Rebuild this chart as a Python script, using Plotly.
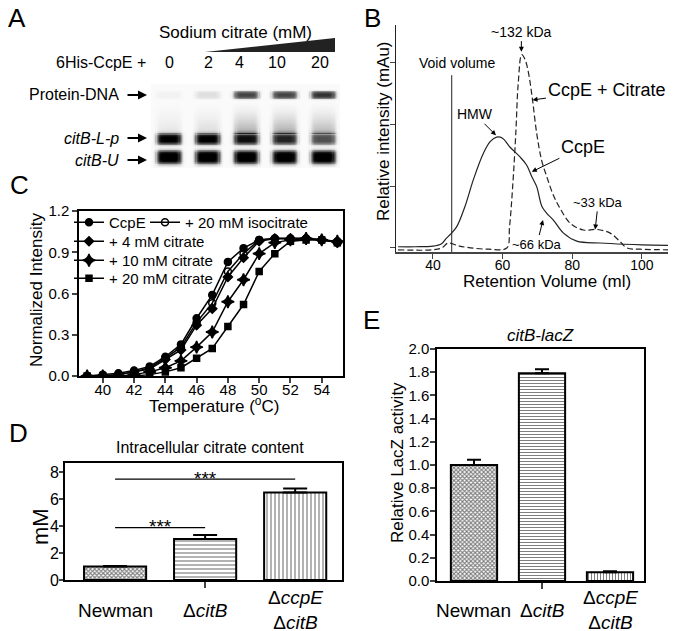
import numpy as np
import plotly.graph_objects as go

W, H = 676, 631
OFF = 8  # page body margin in the screenshot
FONT = "Liberation Sans, Arial, sans-serif"

def px(x):
    return (x - OFF) / W

def py(y):
    return 1 - (y - OFF) / H

# ---------------- Panel A: EMSA gel ----------------
lane_labels = ["0", "2", "4", "10", "20"]
band_names = ["Protein-DNA", "citB-L-p", "citB-U"]
band_positions = [11, 55, 73]          # migration (a.u. from gel top)
band_halfwidths = [4, 6, 7.5]
protein_dna_int = [0.07, 0.18, 0.75, 0.75, 0.8]
citBLp_int = [0.97, 0.97, 0.92, 0.85, 0.72]
citBU_int = [1.0, 1.0, 1.0, 1.0, 1.0]
smear_int = [0.15, 0.2, 0.42, 0.42, 0.38]

# ---------------- Panel B: gel filtration ----------------
ccpE_ml = [30, 35, 40, 42.5, 43.9, 45, 46.8, 49.2, 51.6, 54.5, 56.5, 58.3, 60, 62.1, 65, 66.9,
           68.4, 69.8, 71.3, 72.7, 74.6, 77.5, 81.3, 88, 95, 100, 110]
ccpE_int = [0.02, 0.02, 0.03, 0.07, 0.16, 0.22, 0.34, 0.67, 1.1, 1.53, 1.72, 1.79, 1.77, 1.63, 1.47, 1.34,
            1.15, 0.99, 0.67, 0.56, 0.45, 0.24, 0.11, 0.08, 0.06, 0.05, 0.04]
cit_ml = [30, 40, 42.5, 44.4, 47, 49.7, 56, 61.2, 62.0, 62.9, 63.8, 64.5, 65.5, 66.4, 67.4, 68.6,
          69.8, 71.2, 72.7, 74.6, 76.5, 79.4, 83.2, 87, 90.9, 93.8, 95.7, 99.5, 110]
cit_int = [-0.03, -0.03, 0.0, 0.08, 0.04, 0.01, -0.02, 0.0, 0.34, 0.99, 1.85, 2.66, 3.12, 3.05, 2.84, 2.39,
           1.85, 1.42, 1.15, 0.85, 0.64, 0.4, 0.29, 0.3, 0.24, 0.1, 0.0, -0.02, -0.03]
void_volume = 45.4

# ---------------- Panel C: thermal shift ----------------
temperature = list(range(39, 56))
ccpE_c = [0, 0.01, 0.02, 0.04, 0.07, 0.14, 0.23, 0.42, 0.59, 0.83, 0.93, 0.99, 1.0, 1.0, 1.0, 0.99, 0.97]
iso20 = [0, 0.0, 0.01, 0.03, 0.06, 0.13, 0.21, 0.39, 0.53, 0.76, 0.89, 0.99, 1.0, 1.0, 1.0, 0.99, 0.98]
cit4 = [0, 0.0, 0.01, 0.03, 0.05, 0.12, 0.19, 0.37, 0.49, 0.72, 0.86, 0.98, 1.0, 1.0, 1.0, 0.99, 0.97]
cit10 = [0, 0.0, 0.0, 0.01, 0.03, 0.06, 0.11, 0.21, 0.32, 0.54, 0.70, 0.89, 0.97, 0.99, 1.0, 0.99, 0.98]
cit20 = [0, 0.0, 0.0, 0.0, 0.01, 0.03, 0.06, 0.13, 0.20, 0.36, 0.52, 0.76, 0.89, 0.98, 0.99, 0.99, 0.97]

# ---------------- Panel D / E: bars ----------------
strains = ["Newman", "ΔcitB", "ΔccpE ΔcitB"]
strain_labels = ["Newman", "Δ<i>citB</i>", "Δ<i>ccpE</i><br>Δ<i>citB</i>"]
citrate_mM = [1.0, 3.05, 6.5]
citrate_err = [0.05, 0.3, 0.3]
lacz = [1.0, 1.79, 0.075]
lacz_err = [0.045, 0.035, 0.008]
sig_pairs = [(0, 2, 7.5), (0, 1, 3.9)]

fig = go.Figure()

# ---- gel heatmap ----
gx = np.linspace(-0.5, 4.5, 160)
gy = np.linspace(0, 84, 120)
z = np.full((len(gy), len(gx)), 0.04)
for i in range(len(lane_labels)):
    lane = np.exp(-((gx - i) / 0.34) ** 6)
    col = np.zeros_like(gy)
    for pos, hw, inten in zip(band_positions, band_halfwidths,
                              [protein_dna_int[i], citBLp_int[i], citBU_int[i]]):
        col += inten * np.exp(-((gy - pos) / hw) ** 4)
    ramp = np.clip((gy - 17) / 32, 0, 1) ** 1.3 * (gy < 50)
    col += smear_int[i] * ramp
    z += np.outer(np.clip(col, 0, 1), lane)
z = np.clip(z, 0, 1)
fig.add_trace(go.Heatmap(x=gx, y=gy, z=z, colorscale="Greys", zmin=0, zmax=1,
                         showscale=False, hoverinfo="skip", xaxis="x", yaxis="y"))

# ---- Panel B ----
fig.add_trace(go.Scatter(x=ccpE_ml, y=ccpE_int, mode="lines", line=dict(color="#222", width=1.2, shape="spline"),
                         showlegend=False, xaxis="x2", yaxis="y2"))
fig.add_trace(go.Scatter(x=cit_ml, y=cit_int, mode="lines",
                         line=dict(color="#222", width=1.2, shape="spline", dash="6px,3px"),
                         showlegend=False, xaxis="x2", yaxis="y2"))
fig.add_trace(go.Scatter(x=[void_volume, void_volume], y=[-0.065, 2.79], mode="lines",
                         line=dict(color="#222", width=1), showlegend=False, xaxis="x2", yaxis="y2"))

# ---- Panel C ----
c_series = [
    ("CcpE", ccpE_c, "circle", 7, "legend"),
    ("+ 20 mM isocitrate", iso20, "circle-open", 7, "legend2"),
    ("+ 4 mM citrate", cit4, "diamond", 7, "legend3"),
    ("+ 10 mM citrate", cit10, "star-diamond", 9, "legend4"),
    ("+ 20 mM citrate", cit20, "square", 6, "legend5"),
]
for name, vals, sym, sz, lg in c_series:
    fig.add_trace(go.Scatter(x=temperature, y=vals, mode="lines+markers", name=name,
                             line=dict(color="black", width=1.5),
                             marker=dict(symbol=sym, size=sz, color="black",
                                         line=dict(color="black", width=1.5)),
                             legend=lg, xaxis="x3", yaxis="y3"))

# ---- Panel D ----
fig.add_trace(go.Bar(x=strains, y=citrate_mM, width=0.69,
                     marker=dict(color="white", line=dict(color="black", width=2),
                                 pattern=dict(shape=["x", "-", "|"], size=[3, 4, 4],
                                              solidity=[0.6, 0.3, 0.3], fgcolor="black", bgcolor="white")),
                     error_y=dict(type="data", array=citrate_err, arrayminus=[0, 0, 0], symmetric=False,
                                  color="black", thickness=2, width=12),
                     showlegend=False, xaxis="x4", yaxis="y4"))
for a, b, yv in sig_pairs:
    fig.add_trace(go.Scatter(x=[strains[a], strains[b]], y=[yv, yv], mode="lines",
                             line=dict(color="black", width=1.2), showlegend=False,
                             xaxis="x4", yaxis="y4"))

# ---- Panel E ----
fig.add_trace(go.Bar(x=strains, y=lacz, width=0.68,
                     marker=dict(color="white", line=dict(color="black", width=2),
                                 pattern=dict(shape=["x", "-", "|"], size=[3, 3, 3],
                                              solidity=[0.6, 0.35, 0.35], fgcolor="black", bgcolor="white")),
                     error_y=dict(type="data", array=lacz_err, arrayminus=[0, 0, 0], symmetric=False,
                                  color="black", thickness=2, width=7),
                     showlegend=False, xaxis="x5", yaxis="y5"))

tickfont = dict(family=FONT, size=15, color="black")
ann = []

def text(x, y, t, size=16, xanchor="center", yanchor="middle", xref="paper", yref="paper", yshift=0):
    ann.append(dict(x=x, y=y, xref=xref, yref=yref, text=t, showarrow=False, yshift=yshift,
                    font=dict(family=FONT, size=size, color="black"),
                    xanchor=xanchor, yanchor=yanchor))

def rot(x, y, t, size=17):
    ann.append(dict(x=px(x), y=py(y), xref="paper", yref="paper", text=t, showarrow=False,
                    textangle=-90, font=dict(family=FONT, size=size, color="black"),
                    xanchor="center", yanchor="middle"))

# panel letters
for L, (x, y) in zip("ABCDE", [(17, 18), (372, 18), (19, 185), (18, 433), (371, 320)]):
    text(px(x), py(y), L, size=26)

# Panel A text
text(px(235), py(32), "Sodium citrate (mM)", size=17)
text(px(148), py(63), "6His-CcpE +", size=16, xanchor="right")
for lab, x in zip(lane_labels, [169, 208, 239, 277, 320]):
    text(px(x), py(63), lab, size=16)
for name, y in zip(["Protein-DNA", "<i>citB-L-p</i>", "<i>citB-U</i>"], [95, 138, 160]):
    text(px(121), py(y), name, size=16, xanchor="right")
    ann.append(dict(x=px(147), y=py(y), xref="paper", yref="paper", ax=-21, ay=0, text="",
                    showarrow=True, arrowhead=2, arrowsize=0.9, arrowwidth=2, arrowcolor="black"))

# Panel B annotations
def barrow(x, y, axp, ayp, t, size):
    ann.append(dict(x=x, y=y, xref="x2", yref="y2", ax=axp, ay=ayp, text=t, showarrow=True,
                    arrowhead=2, arrowsize=1, arrowwidth=1, arrowcolor="black",
                    font=dict(family=FONT, size=size, color="black")))

barrow(65.4, 3.17, 0, -20, "~132 kDa", 14)
barrow(58.1, 1.82, -21, -21, "HMW", 14)
barrow(68.6, 2.39, 74, -10, "CcpE + Citrate", 18)
barrow(68.4, 1.23, 51, -25, "CcpE", 18)
barrow(86.6, 0.3, 3, -27, "~33 kDa", 13)
barrow(71.6, 0.45, -6, 24, "~66 kDa", 13)
text(46.9, 2.98, "Void volume", size=14, xref="x2", yref="y2")
text(px(547), py(281), "Retention Volume (ml)", size=17)
rot(383, 131, "Relative intensity (mAu)", size=17)

# Panel C texts
rot(37, 290, "Normalized Intensity", size=17)
text(px(214), py(405), "Temperature (<sup>o</sup>C)", size=17)

# Panel D texts
text(px(210), py(447), "Intracellular citrate content", size=16)
rot(40, 527, "mM", size=22)
for a, b, yv in sig_pairs:
    text((a + b) / 2, yv, "***", size=19, xref="x4", yref="y4", yanchor="middle", yshift=1)
for s, lab in zip(strains, strain_labels):
    text(s, py(610), lab, size=19, xref="x4")

# Panel E texts
text(px(540), py(335), "<i>citB-lacZ</i>", size=17)
rot(397, 463, "Relative LacZ activity", size=17)
for s, lab in zip(strains, strain_labels):
    text(s, py(610), lab, size=19, xref="x5")

legfont = dict(family=FONT, size=15, color="black")
def leg(x, ytop):
    return dict(x=px(x), y=py(ytop), xanchor="left", yanchor="top", bgcolor="rgba(0,0,0,0)",
                font=legfont, itemwidth=30)

fig.update_layout(
    width=W, height=H, margin=dict(l=0, r=0, t=0, b=0, autoexpand=False),
    paper_bgcolor="white", plot_bgcolor="white",
    font=dict(family=FONT, color="black"),
    annotations=ann,
    shapes=[dict(type="path", xref="paper", yref="paper",
                 path=f"M {px(205)} {py(52)} L {px(335)} {py(38)} L {px(335)} {py(52)} Z",
                 fillcolor="#222", line=dict(width=0))],
    # gel
    xaxis=dict(domain=[px(151), px(340)], range=[-0.47, 4.44], visible=False, anchor="y"),
    yaxis=dict(domain=[py(168), py(84)], range=[84, 0], visible=False, anchor="x"),
    # B
    xaxis2=dict(domain=[px(396), px(676)], range=[29.4, 109.8], anchor="y2", showline=True,
                linewidth=2, linecolor="#444", ticks="outside", ticklen=5, tickwidth=1.2,
                ticklabelstandoff=-6,
                tickvals=[40, 60, 80, 100], tickfont=dict(family=FONT, size=14, color="black"),
                showgrid=False, zeroline=False),
    yaxis2=dict(domain=[py(252), py(25)], range=[-0.065, 3.6], anchor="x2", showline=True,
                linewidth=1.2, linecolor="#222", ticks="outside", ticklen=5, tickwidth=1.2,
                tickvals=[0, 1, 2, 3], showticklabels=False, showgrid=False, zeroline=False),
    # C
    xaxis3=dict(domain=[px(79), px(343)], range=[38.48, 55.36], anchor="y3", showline=True, mirror=True,
                linewidth=1.5, linecolor="black", ticks="outside", ticklen=5, tickwidth=1.5,
                ticklabelstandoff=-6,
                tickvals=list(range(40, 55, 2)), tickfont=dict(family=FONT, size=15, color="black"),
                showgrid=False, zeroline=False),
    yaxis3=dict(domain=[py(376), py(211)], range=[0, 1.2], anchor="x3", showline=True, mirror=True,
                linewidth=1.5, linecolor="black", ticks="outside", ticklen=5, tickwidth=1.5,
                tickvals=[0, 0.3, 0.6, 0.9, 1.2], tickformat=".1f", tickfont=tickfont,
                showgrid=False, zeroline=False),
    # D
    xaxis4=dict(domain=[px(65), px(342)], type="category", range=[-0.556, 2.52], anchor="y4",
                showline=True, mirror=True, linewidth=2, linecolor="black", ticks="outside",
                ticklen=6, tickwidth=1.5, tickvals=[strains[1]], showticklabels=False,
                showgrid=False, zeroline=False),
    yaxis4=dict(domain=[py(580), py(463)], range=[0, 8.7], anchor="x4", showline=True, mirror=True,
                linewidth=2, linecolor="black", ticks="outside", ticklen=4, tickwidth=1.5,
                ticklabelstandoff=-3,
                tickvals=[0, 2, 4, 6, 8], tickfont=dict(family=FONT, size=16, color="black"),
                showgrid=False, zeroline=False),
    # E
    xaxis5=dict(domain=[px(437), px(644)], type="category", range=[-0.544, 2.5], anchor="y5",
                showline=True, mirror=True, linewidth=1.5, linecolor="black", ticks="outside",
                ticklen=6, tickwidth=1.5, tickvals=[strains[1]], showticklabels=False,
                showgrid=False, zeroline=False),
    yaxis5=dict(domain=[py(581), py(349)], range=[0, 2.0], anchor="x5", showline=True, mirror=True,
                linewidth=1.5, linecolor="black", ticks="outside", ticklen=5, tickwidth=1.5,
                ticklabelstandoff=-2,
                dtick=0.2, tickformat=".1f", tickfont=tickfont, showgrid=False, zeroline=False),
    legend=leg(69, 206),
    legend2=leg(145, 206),
    legend3=leg(69, 225),
    legend4=leg(69, 244),
    legend5=leg(69, 262),
)

fig.write_html("out.html")
